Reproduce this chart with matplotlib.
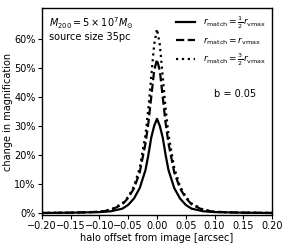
import numpy as np
import matplotlib
matplotlib.use('Agg')
import matplotlib.pyplot as plt
from matplotlib.ticker import PercentFormatter

# offsets from image [arcsec], curves are symmetric about zero
half_offset = [0.0, 0.005, 0.01, 0.015, 0.02, 0.03, 0.04, 0.05, 0.06, 0.08, 0.10, 0.15, 0.20]
solid_half = [0.325, 0.30, 0.26, 0.20, 0.148, 0.086, 0.05, 0.028, 0.015, 0.006, 0.003, 0.001, 0.0]
dashed_half = [0.53, 0.49, 0.40, 0.31, 0.24, 0.14, 0.085, 0.052, 0.03, 0.01, 0.004, 0.001, 0.0]
dotted_half = [0.635, 0.58, 0.47, 0.36, 0.27, 0.155, 0.092, 0.056, 0.033, 0.012, 0.004, 0.001, 0.0]

labels = [r'$r_{\rm match} = \frac{1}{2}r_{\rm vmax}$',
          r'$r_{\rm match} = r_{\rm vmax}$',
          r'$r_{\rm match} = \frac{3}{2}r_{\rm vmax}$']
styles = ['-', '--', ':']


def mirror(xs, ys):
    xs = np.array(xs)
    ys = np.array(ys)
    return np.concatenate([-xs[::-1], xs[1:]]), np.concatenate([ys[::-1], ys[1:]])


fig = plt.figure(figsize=(2.87, 2.46), dpi=100)
ax = fig.add_axes([0.146, 0.126, 0.802, 0.841])

for ys, ls, lab in zip([solid_half, dashed_half, dotted_half], styles, labels):
    xx, yy = mirror(half_offset, ys)
    ax.plot(xx, yy, color='k', ls=ls, lw=1.6, label=lab)

ax.set_xlim(-0.2, 0.2)
ax.set_ylim(-0.007, 0.707)
ax.set_xticks(np.arange(-0.2, 0.201, 0.05))
ax.set_yticks(np.arange(0, 0.61, 0.1))
ax.yaxis.set_major_formatter(PercentFormatter(1.0, decimals=0))
ax.tick_params(labelsize=7, length=3, width=0.8, pad=1.5)
for s in ax.spines.values():
    s.set_linewidth(1.0)

ax.set_xlabel('halo offset from image [arcsec]', fontsize=7, labelpad=1)
ax.set_ylabel('change in magnification', fontsize=7, labelpad=1)

ax.text(0.03, 0.965, r'$M_{200} = 5 \times 10^7 M_{\odot}$' + '\nsource size 35pc',
        transform=ax.transAxes, ha='left', va='top', fontsize=7, linespacing=1.1)
ax.text(0.93, 0.585, 'b = 0.05', transform=ax.transAxes, ha='right', va='center', fontsize=7)

ax.legend(loc='upper right', frameon=False, fontsize=6.5, handlelength=2.2,
          borderaxespad=0.3, labelspacing=0.5)

fig.savefig('out.png', dpi=100)
